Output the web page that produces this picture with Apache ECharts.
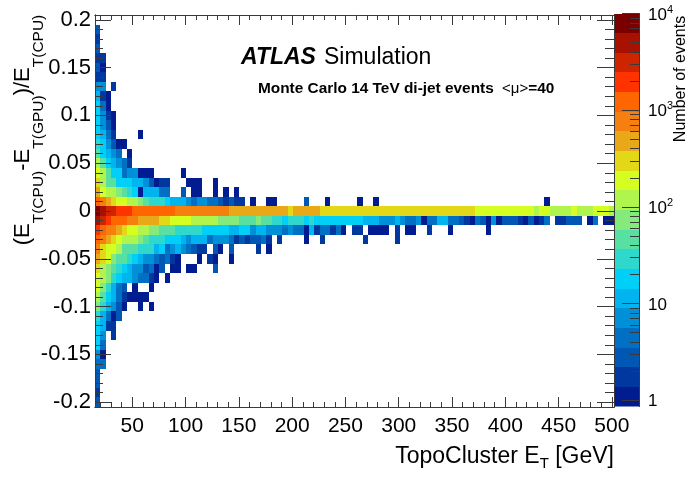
<!DOCTYPE html>
<html>
<head>
<meta charset="utf-8">
<style>
html, body { margin: 0; padding: 0; background: #fff; }
#chart { width: 689px; height: 477px; }
</style>
<script src="https://cdn.jsdelivr.net/npm/echarts@6/dist/echarts.min.js"></script>
</head>
<body>
<div id="chart"></div>
<script>
// number of events per bin, one list per ratio row, index = ET bin
var rowP19 = [3];
var rowP18 = [2];
var rowP17 = [3];
var rowP16 = [2,2];
var rowP15 = [3,1];
var rowP14 = [2,2];
var rowP13 = [7,7,0,2];
var rowP12 = [11,2,1];
var rowP11 = [18,5,1];
var rowP10 = [18,7,2,1];
var rowP09 = [18,7,3,1];
var rowP08 = [18,11,5,2,0,0,0,0,1];
var rowP07 = [28,18,7,3,1,1];
var rowP06 = [45,18,11,7,5,0,1];
var rowP05 = [110,45,18,11,7,5,2];
var rowP04 = [180,110,45,18,18,5,7,7,1,1, 1,0,0,0,0,0,1];
var rowP03 = [280,110,45,45,18,18,18,11,11,7, 3,1,2,2,0,0,0,1,1,1, 0,0,1];
var rowP02 = [450,180,110,110,70,45,28,18,1,11, 11,11,5,5,0,0,3,0,1,1, 0,0,1,0,1,0,1];
var rowP01 = [1100,700,450,280,180,180,110,110,70,45,
    28,28,28,18,11,11,11,7,5,7,
    7,5,5,3,2,3,2,2,0,1,
    0,0,1,1,0,0,0,0,0,3,
    0,0,0,1,0,0,0,0,0,1,
    0,0,1,0,0,0,0,0,0,0,
    0,0,0,0,0,0,0,0,0,0,
    0,0,0,0,0,0,0,0,0,0,
    0,0,0,0,1];
var rowZero = [7000,4500,2800,2800,1800,1800,1800,1100,1100,1100,
    1100,1100,1100,1100,1100,700,700,700,700,700,
    700,700,700,700,700,450,450,450,450,450,
    450,450,450,450,450,450,280,450,450,450,
    450,450,280,280,280,280,280,280,280,280,
    280,280,280,280,280,280,280,280,280,280,
    280,280,280,280,280,280,280,280,280,280,
    280,180,180,180,180,180,180,180,180,180,
    180,180,110,180,180,110,110,110,110,180,
    110,110,110,180,180,180,110];
var rowM01 = [4500,2800,1800,1100,1100,1100,700,700,450,450,
    450,450,280,280,180,180,180,180,110,110,
    110,110,110,70,70,70,70,45,45,45,
    70,45,45,28,28,18,28,28,28,18,
    28,18,18,18,18,18,18,18,18,18,
    11,11,11,7,7,7,11,7,5,5,
    7,1,5,5,11,11,5,5,3,2,
    1,5,3,1,7,1,3,3,3,2,
    1,3,1,2,5,0,2,2,3,3,
    3,0,1,5,0,1,1];
var rowM02 = [1800,1100,700,700,450,280,180,180,110,110,
    70,70,45,45,45,28,28,28,28,28,
    18,18,18,18,18,11,11,18,18,7,
    11,11,7,7,7,5,7,5,5,1,
    11,2,5,5,2,5,1,0,2,2,
    0,1,1,1,1,0,2,0,1,1,
    0,0,2,0,0,0,1,0,0,0,
    0,0,0,1];
var rowM03 = [1100,700,450,280,180,110,110,110,70,45,
    28,28,28,18,18,18,11,7,11,11,
    11,5,7,7,7,5,2,3,2,3,
    3,5,2,0,2,0,0,0,0,1,
    0,0,2,0,0,0,0,0,0,0,
    2,0,0,0,0,0,2];
var rowM04 = [700,280,180,180,110,45,45,45,28,28,
    28,11,18,5,7,11,7,5,3,2,
    2,0,3,1,0,3,0,0,0,0,
    2,0,1];
var rowM05 = [450,280,180,70,45,45,28,18,11,7,
    7,5,3,5,2,1,0,0,0,1,
    0,2,1,0,0,1];
var rowM06 = [280,110,70,45,28,18,11,7,7,3,
    5,1,3,0,1,1,0,1,1,0,
    0,0,3];
var rowM07 = [180,110,70,28,18,11,11,7,5,5, 2,1,0,1];
var rowM08 = [180,70,28,11,5,3,0,1,0,0, 1];
var rowM09 = [110,45,18,11,5,2,1,1,1,1];
var rowM10 = [70,28,11,7,3,1,0,0,1,0, 1];
var rowM11 = [28,11,5,1,3];
var rowM12 = [18,11,2,2];
var rowM13 = [18,7,0,2];
var rowM14 = [18,5];
var rowM15 = [7,1];
var rowM16 = [5,5];
var rowM17 = [3];
var rowM18 = [3];
var rowM19 = [2];
var rowM20 = [3];

var rowValues = [rowP19,rowP18,rowP17,rowP16,rowP15,rowP14,rowP13,rowP12,rowP11,rowP10,
    rowP09,rowP08,rowP07,rowP06,rowP05,rowP04,rowP03,rowP02,rowP01,rowZero,
    rowM01,rowM02,rowM03,rowM04,rowM05,rowM06,rowM07,rowM08,rowM09,rowM10,
    rowM11,rowM12,rowM13,rowM14,rowM15,rowM16,rowM17,rowM18,rowM19,rowM20];
var rowCenters = [0.19,0.18,0.17,0.16,0.15,0.14,0.13,0.12,0.11,0.10,
    0.09,0.08,0.07,0.06,0.05,0.04,0.03,0.02,0.01,0,
    -0.01,-0.02,-0.03,-0.04,-0.05,-0.06,-0.07,-0.08,-0.09,-0.10,
    -0.11,-0.12,-0.13,-0.14,-0.15,-0.16,-0.17,-0.18,-0.19,-0.20];

// bottom to top, 20 bands of the palette
var paletteColors = ['#001c90','#0038a0','#0058b4','#0070c4','#0090d8','#00b4f0','#00d0f8','#2ed8cc','#58e0a2','#85ea7c',
    '#aff54d','#d4ff20','#e2d818','#e8a818','#f58010','#ff6600','#ff3300','#cc2500','#a81000','#7a0000'];

var xMajorTicks = [50,100,150,200,250,300,350,400,450,500];
var xMinorTicks = [20,30,40,60,70,80,90,110,120,130,140,160,170,180,190,210,220,230,240,260,270,280,290,
    310,320,330,340,360,370,380,390,410,420,430,440,460,470,480,490];
var yMajorTicks = [-0.2,-0.15,-0.1,-0.05,0,0.05,0.1,0.15,0.2];
var yMinorTicks = [-0.19,-0.18,-0.17,-0.16,-0.14,-0.13,-0.12,-0.11,-0.09,-0.08,-0.07,-0.06,-0.04,-0.03,-0.02,-0.01,
    0.01,0.02,0.03,0.04,0.06,0.07,0.08,0.09,0.11,0.12,0.13,0.14,0.16,0.17,0.18,0.19];
var zMajorTicks = [1,10,100,1000,10000];
var zMinorTicks = [2,3,4,5,6,7,8,9,20,30,40,50,60,70,80,90,200,300,400,500,600,700,800,900,2000,3000,4000,5000,6000,7000,8000,9000];

var xMin = 15, xMax = 502, xBins = 97;
var yMin = -0.205, yMax = 0.205, yBin = 0.01;
var logMin = -0.064, logMax = 4;
var bandSize = (logMax - logMin) / paletteColors.length;
var FONT = '"Liberation Sans", Arial, sans-serif';
var FRAME = '#3a3a3a';

function bandOf(count) {
    var b = Math.floor((Math.log10(count) - logMin) / bandSize);
    return Math.max(0, Math.min(paletteColors.length - 1, b));
}

var cells = [];
rowValues.forEach(function (row, r) {
    row.forEach(function (count, c) {
        if (count > 0) {
            var w = (xMax - xMin) / xBins;
            cells.push([xMin + c * w, xMin + (c + 1) * w, rowCenters[r] - yBin / 2, rowCenters[r] + yBin / 2, bandOf(count)]);
        }
    });
});
var bands = paletteColors.map(function (color, i) {
    return [0, 1, logMin + i * bandSize, logMin + (i + 1) * bandSize, i];
});

function renderBox(params, api) {
    var p0 = api.coord([api.value(0), api.value(3)]);
    var p1 = api.coord([api.value(1), api.value(2)]);
    var x0 = Math.round(p0[0]), y0 = Math.round(p0[1]);
    return {
        type: 'rect',
        shape: { x: x0, y: y0, width: Math.round(p1[0]) - x0, height: Math.round(p1[1]) - y0 },
        style: { fill: paletteColors[api.value(4)] }
    };
}

// one axis per tick length, since an axis has only one tick length
function xTicks(position, ticks, len, withLabels) {
    return {
        type: 'value', gridIndex: 0, position: position, min: xMin, max: xMax, z: 5,
        axisLine: { show: true, onZero: false, lineStyle: { color: FRAME, width: 1 } },
        axisTick: { show: true, inside: true, length: len, customValues: ticks, lineStyle: { color: FRAME, width: 1 } },
        axisLabel: withLabels
            ? { show: true, customValues: xMajorTicks, margin: 9, color: '#000', fontFamily: FONT, fontSize: 21 }
            : { show: false },
        splitLine: { show: false }
    };
}
function yTicks(position, ticks, len, withLabels) {
    return {
        type: 'value', gridIndex: 0, position: position, min: yMin, max: yMax, z: 5,
        axisLine: { show: true, onZero: false, lineStyle: { color: FRAME, width: 1 } },
        axisTick: { show: true, inside: true, length: len, customValues: ticks, lineStyle: { color: FRAME, width: 1 } },
        axisLabel: withLabels
            ? { show: true, customValues: yMajorTicks, margin: 4, color: '#000', fontFamily: FONT, fontSize: 22, padding: [2, 0, 0, 0] }
            : { show: false },
        splitLine: { show: false }
    };
}
function zTicks(ticks, len, withLabels) {
    return {
        type: 'value', gridIndex: 1, position: 'right', min: logMin, max: logMax, z: 5,
        axisLine: { show: true, onZero: false, lineStyle: { color: FRAME, width: 1 } },
        axisTick: { show: true, inside: true, length: len, customValues: ticks.map(Math.log10), lineStyle: { color: FRAME, width: 1 } },
        axisLabel: withLabels ? {
            show: true, customValues: ticks.map(Math.log10), margin: 9, color: '#000', fontFamily: FONT, fontSize: 17, align: 'left',
            padding: [3, 0, 0, 0],
            formatter: function (v) {
                var e = Math.round(v);
                if (e < 2) { return e === 0 ? '1' : '10'; }
                return '10{sup|' + e + '}';
            },
            rich: { sup: { fontFamily: FONT, fontSize: 11, color: '#000', padding: [0, 0, 11, 0] } }
        } : { show: false },
        splitLine: { show: false }
    };
}

var chart = echarts.init(document.getElementById('chart'), null, { renderer: 'canvas' });
chart.setOption({
    animation: false,
    backgroundColor: '#fff',
    grid: [
        { left: 95, top: 15, width: 519, height: 392 },
        { left: 614, top: 13.5, width: 25, height: 393 }
    ],
    xAxis: [
        xTicks('bottom', xMajorTicks, 10, true),
        xTicks('bottom', xMinorTicks, 5, false),
        xTicks('top', xMajorTicks, 10, false),
        xTicks('top', xMinorTicks, 5, false),
        { type: 'value', gridIndex: 1, min: 0, max: 1, show: false }
    ],
    yAxis: [
        yTicks('left', yMajorTicks, 16, true),
        yTicks('left', yMinorTicks, 8, false),
        yTicks('right', yMajorTicks, 17, false),
        yTicks('right', yMinorTicks, 9, false),
        zTicks(zMajorTicks, 17, true),
        zTicks(zMinorTicks, 9, false)
    ],
    series: [
        { type: 'custom', xAxisIndex: 0, yAxisIndex: 0, renderItem: renderBox, data: cells, clip: true, silent: true },
        { type: 'custom', xAxisIndex: 4, yAxisIndex: 4, renderItem: renderBox, data: bands, clip: true, silent: true }
    ],
    graphic: [
        {
            type: 'text', x: 241, y: 58, z: 10,
            style: { text: 'ATLAS', font: 'italic bold 23px ' + FONT, fill: '#000', textAlign: 'left', textVerticalAlign: 'middle' }
        },
        {
            type: 'text', x: 324, y: 58, z: 10,
            style: { text: 'Simulation', font: '23px ' + FONT, fill: '#000', textAlign: 'left', textVerticalAlign: 'middle' }
        },
        {
            type: 'text', x: 258, y: 89, z: 10,
            style: {
                text: 'Monte Carlo 14 TeV di-jet events {mu|<μ>}=40', font: 'bold 15.4px ' + FONT, fill: '#000',
                textAlign: 'left', textVerticalAlign: 'middle',
                rich: { mu: { font: '15px ' + FONT, fill: '#000', padding: [0, 0, 0, 4] } }
            }
        },
        {
            type: 'text', x: 614, y: 457, z: 10,
            style: {
                text: 'TopoCluster E{sub|T} [GeV]', font: '23px ' + FONT, fill: '#000',
                textAlign: 'right', textVerticalAlign: 'middle',
                rich: { sub: { font: '15px ' + FONT, fill: '#000', padding: [14, 0, 0, 0] } }
            }
        },
        {
            type: 'text', x: 22.5, y: 130, z: 10, rotation: Math.PI / 2,
            style: {
                text: '(E{sub|T(CPU)}-E{sub|T(GPU)})/E{sub|T(CPU)}', font: '22px ' + FONT, fill: '#000',
                textAlign: 'center', textVerticalAlign: 'middle',
                rich: { sub: { font: '15.5px ' + FONT, fill: '#000', padding: [32, 0, 0, 0] } }
            }
        },
        {
            type: 'text', x: 681, y: 79, z: 10, rotation: Math.PI / 2,
            style: { text: 'Number of events', font: '16px ' + FONT, fill: '#000', textAlign: 'center', textVerticalAlign: 'middle' }
        }
    ]
});
</script>
</body>
</html>
